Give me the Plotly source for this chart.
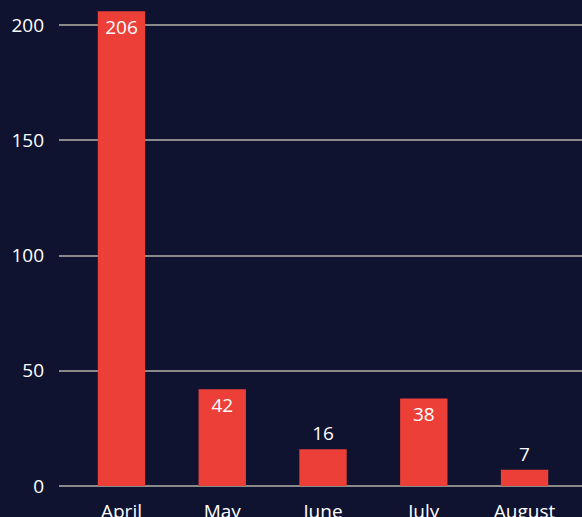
import plotly.graph_objects as go

months = ["April", "May", "June", "July", "August"]
values = [206, 42, 16, 38, 7]
text_positions = ["inside", "inside", "outside", "inside", "outside"]

BG = "#0f1330"
BAR = "#eb3f38"
GRID = "#8a8a8a"
FONT = "Open Sans"

fig = go.Figure(
    go.Bar(
        x=months,
        y=values,
        text=[str(v) for v in values],
        textposition=text_positions,
        insidetextanchor="end",
        textfont=dict(color="white", size=19, family=FONT),
        marker=dict(color=BAR, line=dict(width=0)),
        width=0.47,
        cliponaxis=False,
    )
)

fig.update_layout(
    width=582,
    height=517,
    paper_bgcolor=BG,
    plot_bgcolor=BG,
    margin=dict(l=59, r=0, t=0, b=31),
    showlegend=False,
    font=dict(family=FONT, color="white", size=19),
)
fig.update_xaxes(
    range=[-0.62, 4.57],
    automargin=False,
    showgrid=False,
    showline=False,
    zeroline=False,
    tickfont=dict(color="white", size=19, family=FONT),
    ticklabelstandoff=12,
)
fig.update_yaxes(
    range=[0, 210.9],
    automargin=False,
    tickvals=[0, 50, 100, 150, 200],
    showgrid=True,
    gridcolor=GRID,
    gridwidth=1.5,
    zeroline=True,
    zerolinecolor=GRID,
    zerolinewidth=1.5,
    showline=False,
    tickfont=dict(color="white", size=19, family=FONT),
    ticklabelstandoff=14,
)

fig.write_html(
    "out.html",
    config={"displayModeBar": False},
    post_script="document.body.style.margin='0';document.body.style.background='%s';document.body.style.overflow='hidden';" % BG,
)
